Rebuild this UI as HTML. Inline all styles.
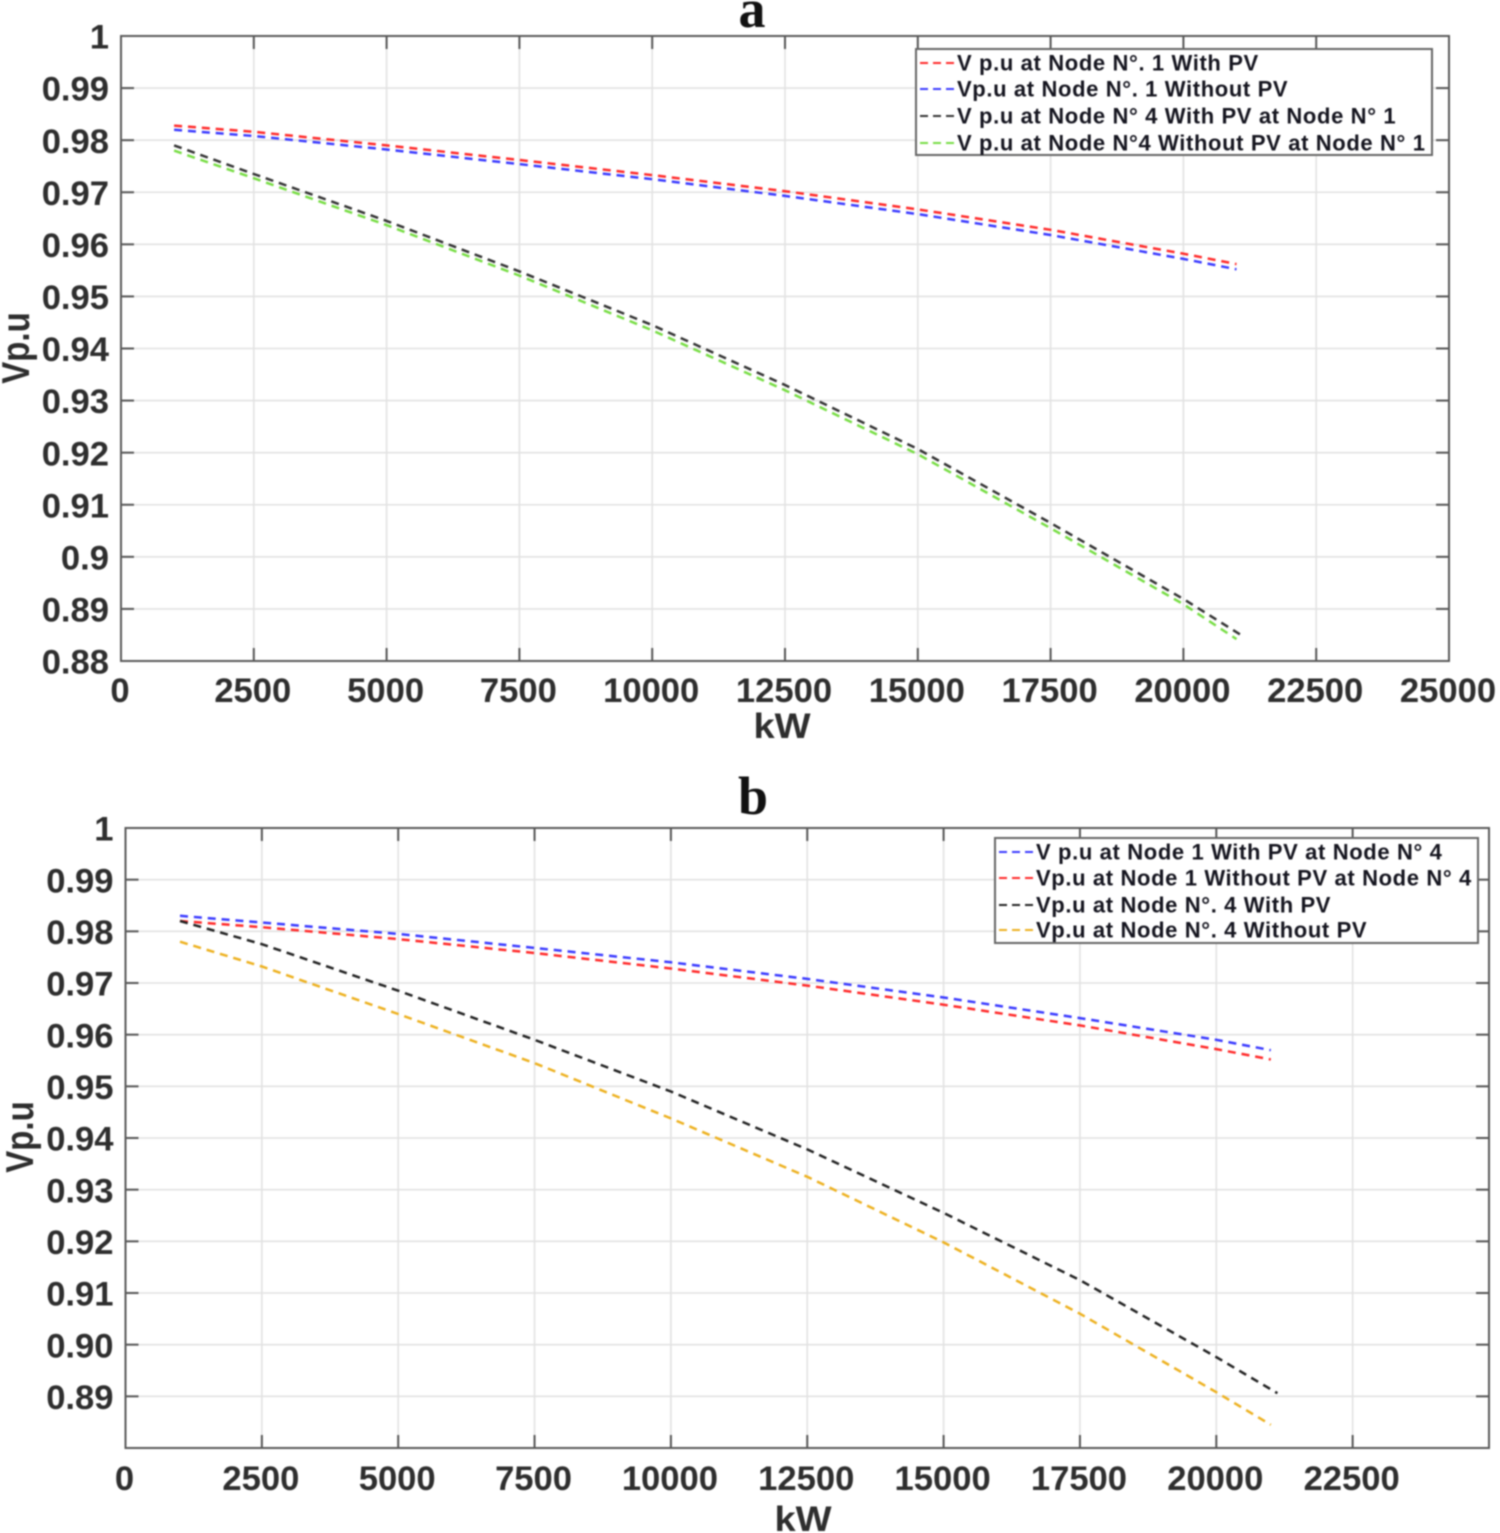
<!DOCTYPE html>
<html lang="en">
<head>
<meta charset="utf-8">
<title>Voltage profile charts</title>
<style>
html,body{margin:0;padding:0;background:#fff;width:1500px;height:1533px;overflow:hidden}
svg{display:block;filter:blur(0.7px)}
text{font-family:"Liberation Sans",sans-serif;font-weight:bold;fill:#2e2e2e}
.title{font-family:"Liberation Serif",serif;fill:#111;font-size:54px}
.tick{font-size:34.6px}
.axis-label{font-size:34px}
.legend{font-size:22px;fill:#15151f;letter-spacing:0.63px}
</style>
</head>
<body>
<svg id="figure" width="1500" height="1533" viewBox="0 0 1500 1533" xmlns="http://www.w3.org/2000/svg"></svg>
<script>
// sample positions (kW)
const loadKw = [1000, 2500, 5000, 7500, 10000, 12500, 15000, 17500, 20000, 21000];
const aNode4WithKw = [1000, 2500, 5000, 7500, 10000, 12500, 15000, 17500, 20000, 21065];
const bNode4WithKw = [1000, 2500, 5000, 7500, 10000, 12500, 15000, 17500, 20000, 21120];

// panel a
const aXTicks = [0, 2500, 5000, 7500, 10000, 12500, 15000, 17500, 20000, 22500, 25000];
const aXLabels = ['0', '2500', '5000', '7500', '10000', '12500', '15000', '17500', '20000', '22500', '25000'];
const aYTicks = [1, 0.99, 0.98, 0.97, 0.96, 0.95, 0.94, 0.93, 0.92, 0.91, 0.9, 0.89, 0.88];
const aYLabels = ['1', '0.99', '0.98', '0.97', '0.96', '0.95', '0.94', '0.93', '0.92', '0.91', '0.9', '0.89', '0.88'];
const aNode1With = [0.9828, 0.9816, 0.9790, 0.9762, 0.9733, 0.9702, 0.9667, 0.9628, 0.9582, 0.9562];
const aNode1Without = [0.9820, 0.9808, 0.9782, 0.9754, 0.9725, 0.9693, 0.9658, 0.9618, 0.9572, 0.9552];
const aNode4With = [0.9790, 0.9735, 0.9645, 0.9548, 0.9445, 0.9330, 0.9207, 0.9065, 0.8919, 0.8851];
const aNode4Without = [0.9780, 0.9727, 0.9637, 0.9540, 0.9435, 0.9320, 0.9197, 0.9055, 0.8909, 0.8842];
const aLegendLabels = ['V p.u at Node N°. 1 With PV', 'Vp.u at Node N°. 1 Without PV', 'V p.u at Node N° 4 With PV at Node N° 1', 'V p.u at Node N°4 Without PV at Node N° 1'];

// panel b
const bXTicks = [0, 2500, 5000, 7500, 10000, 12500, 15000, 17500, 20000, 22500];
const bXLabels = ['0', '2500', '5000', '7500', '10000', '12500', '15000', '17500', '20000', '22500'];
const bYTicks = [1, 0.99, 0.98, 0.97, 0.96, 0.95, 0.94, 0.93, 0.92, 0.91, 0.9, 0.89];
const bYLabels = ['1', '0.99', '0.98', '0.97', '0.96', '0.95', '0.94', '0.93', '0.92', '0.91', '0.90', '0.89'];
const bNode1With = [0.9830, 0.9817, 0.9795, 0.9768, 0.9740, 0.9708, 0.9672, 0.9632, 0.9590, 0.9570];
const bNode1Without = [0.9820, 0.9808, 0.9785, 0.9758, 0.9728, 0.9695, 0.9658, 0.9618, 0.9572, 0.9552];
const bNode4With = [0.9820, 0.9775, 0.9685, 0.9590, 0.9490, 0.9378, 0.9255, 0.9125, 0.8976, 0.8906];
const bNode4Without = [0.9780, 0.9732, 0.9640, 0.9545, 0.9438, 0.9325, 0.9198, 0.9060, 0.8908, 0.8845];
const bLegendLabels = ['V p.u at Node 1 With PV at Node N° 4', 'Vp.u at Node 1 Without PV at Node N° 4', 'Vp.u at Node N°. 4 With PV', 'Vp.u at Node N°. 4 Without PV'];

const NS = 'http://www.w3.org/2000/svg';
const figure = document.getElementById('figure');

function make(parent, tag, attrs, text) {
  const el = document.createElementNS(NS, tag);
  for (const k in attrs) el.setAttribute(k, attrs[k]);
  if (text !== undefined) el.textContent = text;
  parent.appendChild(el);
  return el;
}

function drawPanel(p) {
  const xScale = v => p.left + (v - p.xMin) / (p.xMax - p.xMin) * (p.right - p.left);
  const yScale = v => p.bottom - (v - p.yMin) / (p.yMax - p.yMin) * (p.bottom - p.top);

  const g = make(figure, 'g', {});
  
  

  const bg = make(g, 'rect', {x: p.left, y: p.top, width: p.right - p.left, height: p.bottom - p.top, fill: '#fff'});
  
  

  // grid
  p.xTicks.forEach(v => {
    const gl = make(g, 'line', {x1: xScale(v), x2: xScale(v), y1: p.top, y2: p.bottom, stroke: '#e2e2e2', 'stroke-width': 1.6});
    
    
  });
  p.yTicks.forEach(v => {
    const gl = make(g, 'line', {x1: p.left, x2: p.right, y1: yScale(v), y2: yScale(v), stroke: '#e2e2e2', 'stroke-width': 1.6});
    
    
  });

  // series
  p.series.forEach(s => {
    const pts = s.xs.map((x, i) => xScale(x).toFixed(1) + ',' + yScale(s.values[i]).toFixed(1)).join(' ');
    const line = make(g, 'polyline', {points: pts, fill: 'none', stroke: s.color, 'stroke-width': 2.5, 'stroke-dasharray': '8 5.9'});
    
    
  });

  // ticks
  const tickLen = 13;
  p.xTicks.forEach((v, i) => {
    const t1 = make(g, 'line', {x1: xScale(v), x2: xScale(v), y1: p.bottom, y2: p.bottom - tickLen, stroke: '#555', 'stroke-width': 2});
    
    
    const t2 = make(g, 'line', {x1: xScale(v), x2: xScale(v), y1: p.top, y2: p.top + tickLen, stroke: '#555', 'stroke-width': 2});
    
    
    const lab = make(g, 'text', {x: xScale(v) - 1, y: p.xLabelY, 'text-anchor': 'middle', class: 'tick'}, p.xLabels[i]);
    
    
  });
  p.yTicks.forEach((v, i) => {
    const t1 = make(g, 'line', {x1: p.left, x2: p.left + tickLen, y1: yScale(v), y2: yScale(v), stroke: '#555', 'stroke-width': 2});
    
    
    const t2 = make(g, 'line', {x1: p.right, x2: p.right - tickLen, y1: yScale(v), y2: yScale(v), stroke: '#555', 'stroke-width': 2});
    
    
    const lab = make(g, 'text', {x: p.left - 12, y: yScale(v) + 12.6, 'text-anchor': 'end', class: 'tick'}, p.yLabels[i]);
    
    
  });

  // frame
  const frame = make(g, 'rect', {x: p.left, y: p.top, width: p.right - p.left, height: p.bottom - p.top, fill: 'none', stroke: '#5a5a5a', 'stroke-width': 2});
  
  

  // titles
  const title = make(g, 'text', {x: p.titleX, y: p.titleY, 'text-anchor': 'middle', class: 'title'}, p.title);
  
  
  const xt = make(g, 'text', {x: 0, y: 0, 'text-anchor': 'middle', class: 'axis-label', transform: 'translate(' + p.xTitleX + ',' + p.xTitleY + ') scale(1.12,1.03)'}, 'kW');
  
  
  const yt = make(g, 'text', {x: 0, y: 0, 'text-anchor': 'middle', class: 'axis-label', transform: 'translate(' + p.yTitleX + ',' + p.yTitleY + ') rotate(-90) scale(0.97,1.15)'}, 'Vp.u');
  
  

  // legend
  const lg = make(g, 'g', {});
  
  
  make(lg, 'rect', {x: p.legend.x, y: p.legend.y, width: p.legend.w, height: p.legend.h, fill: '#fff', stroke: '#666', 'stroke-width': 2});
  p.series.forEach((s, i) => {
    const ry = p.legend.rows[i];
    const sw = make(lg, 'line', {x1: p.legend.x + 4, x2: p.legend.x + 40, y1: ry, y2: ry, stroke: s.color, 'stroke-width': 2, 'stroke-dasharray': '8 5'});
    
    
    const tx = make(lg, 'text', {x: p.legend.x + 41, y: ry + 7.5, class: 'legend'}, p.legendLabels[i]);
    
    
  });
}

drawPanel({
  id: 'panel-a', title: 'a', titleX: 752, titleY: 27,
  left: 121, right: 1449, top: 36, bottom: 661,
  xMin: 0, xMax: 25000, yMin: 0.88, yMax: 1,
  xTicks: aXTicks, xLabels: aXLabels, yTicks: aYTicks, yLabels: aYLabels,
  xLabelY: 702, xTitleX: 782, xTitleY: 738, yTitleX: 29, yTitleY: 348,
  legendLabels: aLegendLabels,
  legend: {x: 916, y: 49, w: 516, h: 106, rows: [63, 89, 116, 143]},
  series: [
    {name: 'a-node1-with-pv', color: '#ff2a2a', xs: loadKw, values: aNode1With},
    {name: 'a-node1-without-pv', color: '#3a3aff', xs: loadKw, values: aNode1Without},
    {name: 'a-node4-with-pv', color: '#333333', xs: aNode4WithKw, values: aNode4With},
    {name: 'a-node4-without-pv', color: '#77dd44', xs: loadKw, values: aNode4Without}
  ]
});

drawPanel({
  id: 'panel-b', title: 'b', titleX: 753, titleY: 814,
  left: 125.5, right: 1489, top: 828, bottom: 1448,
  xMin: 0, xMax: 25000, yMin: 0.88, yMax: 1,
  xTicks: bXTicks, xLabels: bXLabels, yTicks: bYTicks, yLabels: bYLabels,
  xLabelY: 1490, xTitleX: 803, xTitleY: 1531, yTitleX: 33, yTitleY: 1137,
  legendLabels: bLegendLabels,
  legend: {x: 995, y: 838, w: 483, h: 105, rows: [852, 878, 905, 930]},
  series: [
    {name: 'b-node1-with-pv', color: '#3a3aff', xs: loadKw, values: bNode1With},
    {name: 'b-node1-without-pv', color: '#ff2a2a', xs: loadKw, values: bNode1Without},
    {name: 'b-node4-with-pv', color: '#222222', xs: bNode4WithKw, values: bNode4With},
    {name: 'b-node4-without-pv', color: '#edb120', xs: loadKw, values: bNode4Without}
  ]
});
</script>
</body>
</html>
